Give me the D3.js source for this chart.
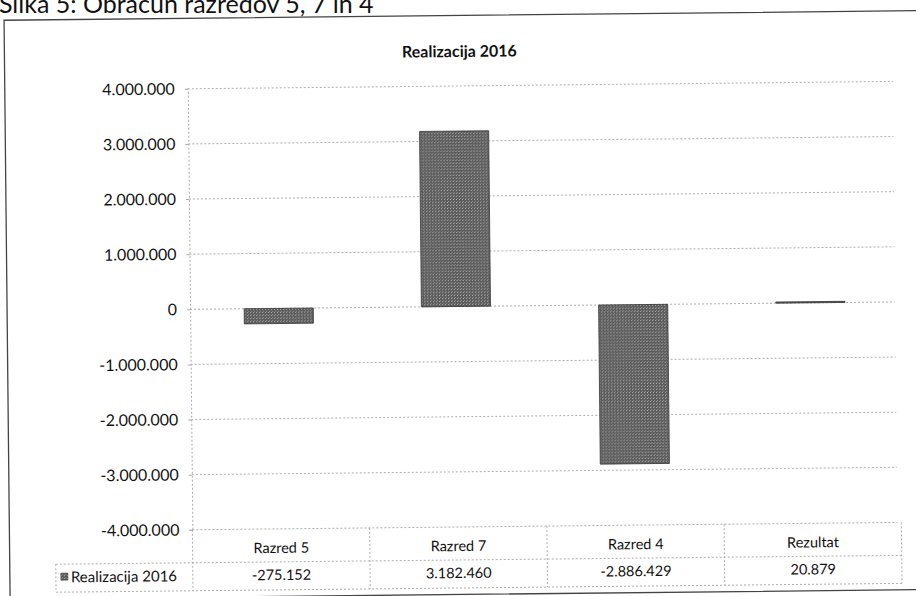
<!DOCTYPE html>
<html>
<head>
<meta charset="utf-8">
<script src="https://cdn.jsdelivr.net/npm/d3@7"></script>
<style>
  body { margin: 0; background: #fff; }
  svg { display: block; }
</style>
</head>
<body>
<div id="chart"></div>
<script>
// data
const categories = ["Razred 5", "Razred 7", "Razred 4", "Rezultat"]
const values = [-275152, 3182460, -2886429, 20879]
const seriesName = "Realizacija 2016"
const yTicks = [-4000000, -3000000, -2000000, -1000000, 0, 1000000, 2000000, 3000000, 4000000]

const width = 916
const height = 596
const plot = {left: 190, right: 899, top: 86, bottom: 527}
const rowMid = 560, rowBottom = 588
const font = "Lato, 'Open Sans', sans-serif"

const loc = d3.formatLocale({decimal: ",", thousands: ".", grouping: [3], currency: ["", ""], minus: "-"})
const fmt = loc.format(",d")

const x = d3.scaleBand().domain(categories).range([plot.left, plot.right])
const y = d3.scaleLinear().domain([-4000000, 4000000]).range([plot.bottom, plot.top])

const svg = d3.select("#chart").append("svg")
  .attr("width", width)
  .attr("height", height)
  .attr("font-family", font)

// scan texture for the bars
const defs = svg.append("defs")
const pat = defs.append("pattern")
  .attr("id", "scan")
  .attr("width", 3).attr("height", 3)
  .attr("patternUnits", "userSpaceOnUse")
pat.append("rect").attr("width", 3).attr("height", 3).attr("fill", "#5c5c5c")
pat.append("rect").attr("x", 1).attr("y", 1).attr("width", 1).attr("height", 1).attr("fill", "#b0b0b0")
pat.append("rect").attr("x", 2).attr("y", 0).attr("width", 1).attr("height", 1).attr("fill", "#8c8c8c")

// caption sits level, partly cut off by the top of the scan
svg.append("text")
  .attr("x", -1).attr("y", 13)
  .attr("font-size", 25)
  .attr("fill", "#111")
  .text("Slika 5: Obračun razredov 5, 7 in 4")

// the chart itself is scanned slightly tilted
const g = svg.append("g").attr("transform", "rotate(-0.6, 458, 300)")

// outer frame
g.append("rect")
  .attr("x", 7).attr("y", 15.5)
  .attr("width", 930).attr("height", 579)
  .attr("fill", "none")
  .attr("stroke", "#444")
  .attr("stroke-width", 1.3)

g.append("text")
  .attr("x", 462).attr("y", 57)
  .attr("text-anchor", "middle")
  .attr("font-size", 16)
  .attr("font-weight", "bold")
  .attr("fill", "#111")
  .text(seriesName)

// gridlines
g.append("g")
  .selectAll("line")
  .data(yTicks)
  .join("line")
    .attr("x1", plot.left).attr("x2", plot.right - 4)
    .attr("y1", d => y(d)).attr("y2", d => y(d))
    .attr("stroke", "#999")
    .attr("stroke-width", 0.8)
    .attr("stroke-dasharray", "2,2")

// y axis
const yAxis = g.append("g")
  .attr("transform", `translate(${plot.left},0)`)
  .call(d3.axisLeft(y).tickValues(yTicks).tickFormat(fmt).tickSize(3).tickPadding(10))
yAxis.select(".domain").attr("stroke", "#aaa").attr("stroke-dasharray", "2,2")
yAxis.selectAll(".tick line").attr("stroke", "#aaa")
yAxis.selectAll("text")
  .attr("font-family", font)
  .attr("font-size", 16)
  .attr("fill", "#111")

// bars
const bw = x.bandwidth() * 0.39
g.append("g")
  .selectAll("rect")
  .data(values)
  .join("rect")
    .attr("x", (d, i) => x(categories[i]) + (x.bandwidth() - bw) / 2)
    .attr("y", d => y(Math.max(0, d)))
    .attr("width", bw)
    .attr("height", d => Math.max(1, Math.abs(y(d) - y(0))))
    .attr("fill", "url(#scan)")
    .attr("stroke", "#333")
    .attr("stroke-width", 0.8)

// data table
const tbl = g.append("g")
  .attr("fill", "none")
  .attr("stroke", "#999")
  .attr("stroke-width", 0.8)
  .attr("stroke-dasharray", "2,2")
categories.forEach((c, i) => {
  tbl.append("line")
    .attr("x1", x(c) + x.bandwidth()).attr("x2", x(c) + x.bandwidth())
    .attr("y1", plot.bottom).attr("y2", rowBottom)
})
tbl.append("line").attr("x1", plot.left).attr("x2", plot.left).attr("y1", plot.bottom).attr("y2", rowBottom)
tbl.append("line").attr("x1", 53).attr("x2", plot.right).attr("y1", rowMid).attr("y2", rowMid)
tbl.append("line").attr("x1", 53).attr("x2", plot.right).attr("y1", rowBottom).attr("y2", rowBottom)
tbl.append("line").attr("x1", 53).attr("x2", 53).attr("y1", rowMid).attr("y2", rowBottom)

g.append("g")
  .selectAll("text")
  .data(categories)
  .join("text")
    .attr("x", d => x(d) + x.bandwidth() / 2)
    .attr("y", 546)
    .attr("dy", "0.35em")
    .attr("text-anchor", "middle")
    .attr("font-size", 14.5)
    .attr("fill", "#111")
    .text(d => d)

g.append("g")
  .selectAll("text")
  .data(values)
  .join("text")
    .attr("x", (d, i) => x(categories[i]) + x.bandwidth() / 2)
    .attr("y", 573)
    .attr("dy", "0.35em")
    .attr("text-anchor", "middle")
    .attr("font-size", 14.5)
    .attr("fill", "#111")
    .text(d => fmt(d))

// legend key inside the table
g.append("rect")
  .attr("x", 58).attr("y", 569)
  .attr("width", 7).attr("height", 7)
  .attr("fill", "url(#scan)")
  .attr("stroke", "#333")
  .attr("stroke-width", 0.6)
g.append("text")
  .attr("x", 68).attr("y", 573)
  .attr("dy", "0.35em")
  .attr("font-size", 15)
  .attr("fill", "#111")
  .text(seriesName)
</script>
</body>
</html>
